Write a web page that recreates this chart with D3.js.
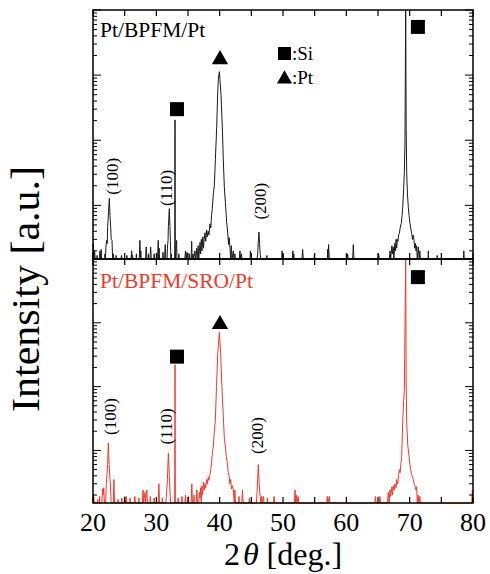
<!DOCTYPE html>
<html><head><meta charset="utf-8">
<script src="https://cdn.jsdelivr.net/npm/d3@7"></script>
<style>body{margin:0;background:#fff}svg{display:block}text{font-family:"Liberation Serif","Times New Roman",Times,serif}</style>
</head><body><svg id="c" width="490" height="574"></svg>
<script>
const F = 10; // zero counts (sits on the baseline of the log axis)

const topScan = [
 [20.0,F],[20.05,26],[20.15,F],[20.25,20],[20.35,F],[20.6,F],[20.65,17],[20.7,F],[21.05,F],[21.1,20],[21.15,F],[21.3,21],[21.35,F],
 [21.85,F],[21.89,18],[21.95,F],[22.05,24],[22.16,29],[22.25,26],[22.32,47],[22.45,80],[22.58,128],[22.68,70],
 [22.79,47],[22.88,30],[23.0,29],[23.1,F],[23.21,18],[23.3,F],[23.6,F],[23.65,17],[23.7,F],
 [24.4,F],[24.5,17],[24.6,F],[25.3,F],[25.35,17],[25.4,F],[26.0,F],[26.1,20],[26.2,F],[26.25,17],[26.3,F],
 [26.8,F],[26.85,18],[26.9,F],
 [27.3,F],[27.4,29],[27.5,F],[27.55,20],[27.6,F],[28.3,F],[28.4,23],[28.5,F],[28.7,F],[28.75,18],[28.8,F],[29.0,F],[29.1,23],[29.2,F],
 [29.6,F],[29.65,18],[29.7,F],
 [30.2,F],[30.3,29],[30.35,F],[30.45,22],[30.5,F],[31.0,F],[31.05,19],[31.1,F],[31.3,F],[31.4,25],[31.5,F],
 [31.7,F],[31.75,22],[31.85,29],[31.9,47],[32.05,89],[32.15,47],[32.22,29],[32.3,F],[32.35,18],[32.4,F],
 [32.9,F],[32.95,2050],[33.0,F],[33.2,29],[33.25,F],[33.5,F],[33.55,18],[33.6,F],
 [34.5,F],[34.6,20],[34.7,F],[34.85,19],[34.9,F],[35.2,F],[35.25,18],[35.3,F],
 [35.5,F],[35.58,28],[35.65,F],[35.8,18],[35.9,F],[36.1,20],[36.2,F],[36.37,22],[36.45,15],[36.6,24],[36.7,F],
 [36.9,27],[37.0,18],[37.1,30],[37.2,20],[37.35,33],[37.45,22],[37.55,30],[37.69,38],[37.8,28],[37.95,42],
 [38.05,33],[38.2,40],[38.3,35],[38.47,52],[38.6,45],[38.72,70],[38.84,90],[39.0,150],[39.16,200],[39.32,500],
 [39.53,1590],[39.69,5300],[39.8,9000],[39.95,11300],[40.05,8500],[40.21,5000],[40.42,1590],[40.58,480],
 [40.74,190],[40.9,110],[41.0,80],[41.1,55],[41.2,45],[41.3,35],[41.4,25],[41.5,32],[41.63,22],[41.75,F],
 [41.85,24],[41.95,F],[42.16,20],[42.25,F],[42.4,18],[42.5,F],
 [43.1,F],[43.2,20],[43.3,F],[43.45,18],[43.5,F],[44.8,F],[44.85,20],[44.95,F],
 [45.9,F],[46.0,18],[46.1,28],[46.2,39],[46.3,26],[46.4,18],[46.5,F],[47.4,F],[47.45,17],[47.5,F],
 [49.8,F],[49.85,20],[49.95,F],[50.0,18],[50.05,F],[51.5,F],[51.55,20],[51.65,F],[51.7,18],[51.75,F],
 [53.0,F],[53.1,21],[53.2,F],[54.9,F],[54.95,17],[55.0,F],[57.0,F],[57.05,21],[57.1,F],[57.2,25],[57.3,F],
 [60.1,F],[60.2,18],[60.3,F],[61.0,F],[61.1,25],[61.2,F],[65.0,F],[65.1,18],[65.2,F],
 [66.8,F],[66.9,20],[67.0,F],[67.2,24],[67.3,18],[67.42,23],[67.5,F],[67.65,26],[67.75,20],[67.85,30],
 [67.95,22],[68.05,30],[68.15,28],[68.25,35],[68.37,37],[68.5,45],[68.6,50],[68.69,53],[68.8,70],[68.9,93],
 [69.05,180],[69.16,315],[69.26,1000],[69.37,400000],[69.45,1500],[69.53,315],[69.65,150],[69.79,93],
 [69.9,70],[70.05,53],[70.15,45],[70.32,37],[70.45,30],[70.55,35],[70.69,29],[70.8,22],[70.9,26],[71.0,20],
 [71.1,24],[71.2,F],[71.37,23],[71.5,F],[71.6,20],[71.7,F],
 [72.9,F],[72.95,20],[73.0,F],[74.3,F],[74.35,17],[74.4,F],[78.5,F],[78.55,20],[78.6,F],[80.0,F]
];

const bottomScan = [
 [20.0,F],[20.1,20],[20.2,F],[20.7,F],[20.75,17],[20.8,F],[21.0,F],[21.05,19],[21.1,F],[21.4,F],[21.5,25],[21.6,20],[21.7,26],[21.8,F],
 [22.0,F],[22.1,30],[22.2,40],[22.3,60],[22.42,131],[22.55,60],[22.65,40],[22.75,30],[22.85,F],
 [23.2,F],[23.3,35],[23.4,F],[23.9,F],[23.95,17],[24.0,F],[24.5,F],[24.55,18],[24.6,F],[24.9,F],[25.0,19],[25.1,F],[25.25,19],[25.3,F],
 [25.8,F],[25.85,18],[25.9,F],[26.5,F],[26.6,19],[26.7,F],[27.2,F],[27.25,18],[27.3,F],
 [27.8,F],[27.9,24],[28.0,F],[28.2,22],[28.3,F],[28.5,24],[28.6,F],[29.0,F],[29.05,19],[29.1,F],
 [29.6,F],[29.65,18],[29.7,F],[30.3,F],[30.4,30],[30.5,F],[30.9,F],[30.95,18],[31.0,F],
 [31.5,F],[31.6,20],[31.75,35],[31.9,91],[32.05,40],[32.15,24],[32.25,F],
 [32.9,F],[32.95,2200],[33.0,F],[33.4,F],[33.45,18],[33.5,F],
 [34.0,F],[34.05,19],[34.1,F],[34.5,F],[34.6,20],[34.7,F],[35.0,F],[35.05,19],[35.1,F],[35.5,F],[35.6,30],[35.7,F],
 [35.9,F],[35.95,20],[36.0,F],[36.3,F],[36.4,24],[36.5,F],
 [36.7,F],[36.8,22],[36.9,18],[37.0,26],[37.1,F],[37.2,28],[37.3,20],[37.45,32],[37.55,24],[37.69,30],
 [37.8,26],[37.95,35],[38.05,30],[38.2,38],[38.3,34],[38.47,42],[38.6,50],[38.72,65],[38.85,90],[39.0,117],
 [39.16,200],[39.32,300],[39.5,1000],[39.7,3400],[39.95,7100],[40.15,3400],[40.35,1000],[40.6,300],
 [40.75,150],[40.9,117],[41.05,80],[41.2,65],[41.35,45],[41.5,40],[41.6,30],[41.75,35],[41.85,25],
 [42.0,28],[42.16,24],[42.3,F],[42.4,24],[42.5,F],
 [43.0,F],[43.05,19],[43.1,F],[43.5,F],[43.6,24],[43.7,F],[44.6,F],[44.7,18],[44.8,F],
 [45.8,F],[45.9,22],[46.0,35],[46.1,60],[46.2,35],[46.3,24],[46.4,19],[46.5,F],[46.6,19],[46.7,F],[46.9,19],[47.0,F],
 [47.5,F],[47.55,18],[47.6,F],[48.5,F],[48.6,19],[48.7,F],[51.8,F],[51.9,24],[52.0,F],[52.1,20],[52.2,F],[52.4,19],[52.5,F],
 [56.9,F],[57.0,19],[57.1,F],[57.3,19],[57.4,F],[64.5,F],[64.6,19],[64.7,F],[65.2,F],[65.3,19],[65.4,F],
 [66.5,F],[66.63,22],[66.75,F],[66.9,24],[67.0,19],[67.2,27],[67.3,20],[67.42,28],[67.55,24],[67.7,30],
 [67.85,26],[67.95,35],[68.1,30],[68.25,40],[68.37,50],[68.5,45],[68.6,60],[68.74,81],[68.9,275],
 [69.05,600],[69.16,890],[69.37,400000],[69.45,1200],[69.53,275],[69.7,120],[69.9,81],[70.05,60],
 [70.16,50],[70.3,42],[70.45,38],[70.58,35],[70.7,30],[70.85,27.5],[71.0,24],[71.1,27],[71.2,F],
 [71.35,20],[71.45,F],[71.6,19],[71.7,F],[79.8,F],[79.9,24],[80.0,F]
];

const xTickValues = [20,25,30,35,40,45,50,55,60,65,70,75,80];
const xTickLabels = ["20","30","40","50","60","70","80"];
const panelTitles = ["Pt/BPFM/Pt", "Pt/BPFM/SRO/Pt"];
const legendLabels = [":Si", ":Pt"];
const topSiMarks = [[33.26,3000],[71.3,55000]];
const topPtMarks = [[40.05,18300]];
const botSiMarks = [[33.26,2950],[71.3,52000]];
const botPtMarks = [[40.05,10000]];
const topHkl = [["(100)",23.0,280],["(110)",31.53,185],["(200)",46.37,116]];
const botHkl = [["(100)",22.84,340],["(110)",31.53,237],["(200)",46.05,171]];

const svg = d3.select("#c");
svg.append("rect").attr("width",490).attr("height",574).attr("fill","#fff");

const x = d3.scaleLinear().domain([20,80]).range([93,473]);
const yTop = d3.scaleLog().domain([15,1e5]).range([259,10]).clamp(true);
const yBot = d3.scaleLog().domain([15,1e5]).range([503,259]).clamp(true);

const minorVals = [];
[10,100,1000,10000].forEach(d => { for (let k=1;k<=9;k++){ const v=d*k; if (v>=15 && v<=1e5) minorVals.push(v);} });
minorVals.push(1e5);

function panel(y, scan, color, title, titleColor, siMarks, ptMarks, hkl, titleY){
  const g = svg.append("g");
  const [y0,y1] = y.range();
  g.append("path").datum(scan)
    .attr("d", d3.line().x(d=>x(d[0])).y(d=>y(d[1])))
    .attr("fill","none").attr("stroke",color).attr("stroke-width",1).attr("stroke-linejoin","miter");
  minorVals.forEach(v=>{
    const major = Math.abs(Math.log10(v)-Math.round(Math.log10(v)))<1e-9;
    const len = major?8:4;
    const yy = y(v);
    g.append("line").attr("x1",93).attr("x2",93+len).attr("y1",yy).attr("y2",yy).attr("stroke","#000").attr("stroke-width",1);
    g.append("line").attr("x1",473).attr("x2",473-len).attr("y1",yy).attr("y2",yy).attr("stroke","#000").attr("stroke-width",1);
  });
  xTickValues.forEach(v=>{
    const xx = x(v);
    const len = 6;
    g.append("line").attr("x1",xx).attr("x2",xx).attr("y1",y1).attr("y2",y1+len).attr("stroke","#000").attr("stroke-width",1.2);
    g.append("line").attr("x1",xx).attr("x2",xx).attr("y1",y0).attr("y2",y0-len).attr("stroke","#000").attr("stroke-width",1.2);
  });
  g.append("rect").attr("x",93).attr("y",y1).attr("width",380).attr("height",y0-y1)
    .attr("fill","none").attr("stroke","#000").attr("stroke-width",1.5);
  g.append("text").attr("x",100).attr("y",titleY).attr("font-size",21.5)
    .attr("fill",titleColor).text(title);
  siMarks.forEach(d=>{
    g.append("rect").attr("x",x(d[0])-7).attr("y",y(d[1])-7).attr("width",14).attr("height",14).attr("fill","#000");
  });
  ptMarks.forEach(d=>{
    g.append("path").attr("d",d3.symbol(d3.symbolTriangle,115)())
      .attr("transform",`translate(${x(d[0])},${y(d[1])+1.5})`).attr("fill","#000");
  });
  hkl.forEach(d=>{
    g.append("text").attr("transform",`translate(${x(d[1])},${y(d[2])}) rotate(-90)`)
      .attr("text-anchor","middle").attr("dominant-baseline","central")
      .attr("font-size",17).attr("fill","#000").text(d[0]);
  });
}

panel(yTop, topScan, "#1a1a1a", panelTitles[0], "#000", topSiMarks, topPtMarks, topHkl, 37);
panel(yBot, bottomScan, "#f2392b", panelTitles[1], "#ee3b2b", botSiMarks, botPtMarks, botHkl, 288);

svg.append("rect").attr("x",278).attr("y",47).attr("width",13).attr("height",13).attr("fill","#000");
svg.append("text").attr("x",292).attr("y",60).attr("font-size",19).text(legendLabels[0]);
svg.append("path").attr("d",d3.symbol(d3.symbolTriangle,100)()).attr("transform","translate(284.5,79)").attr("fill","#000");
svg.append("text").attr("x",292).attr("y",84).attr("font-size",19).text(legendLabels[1]);

xTickLabels.forEach(t=>{
  svg.append("text").attr("x",x(+t)).attr("y",530.5).attr("text-anchor","middle")
    .attr("font-size",26).text(t);
});
const xt = svg.append("text").attr("x",x(50)).attr("y",565).attr("text-anchor","middle")
  .attr("font-size",32);
xt.append("tspan").text("2");
xt.append("tspan").attr("font-style","italic").attr("dx",3).text("θ");
xt.append("tspan").text(" [deg.]");
svg.append("text").attr("transform","translate(39,289) rotate(-90)").attr("text-anchor","middle")
  .attr("font-size",40).attr("textLength",246).attr("lengthAdjust","spacingAndGlyphs").text("Intensity [a.u.]");
</script></body></html>
